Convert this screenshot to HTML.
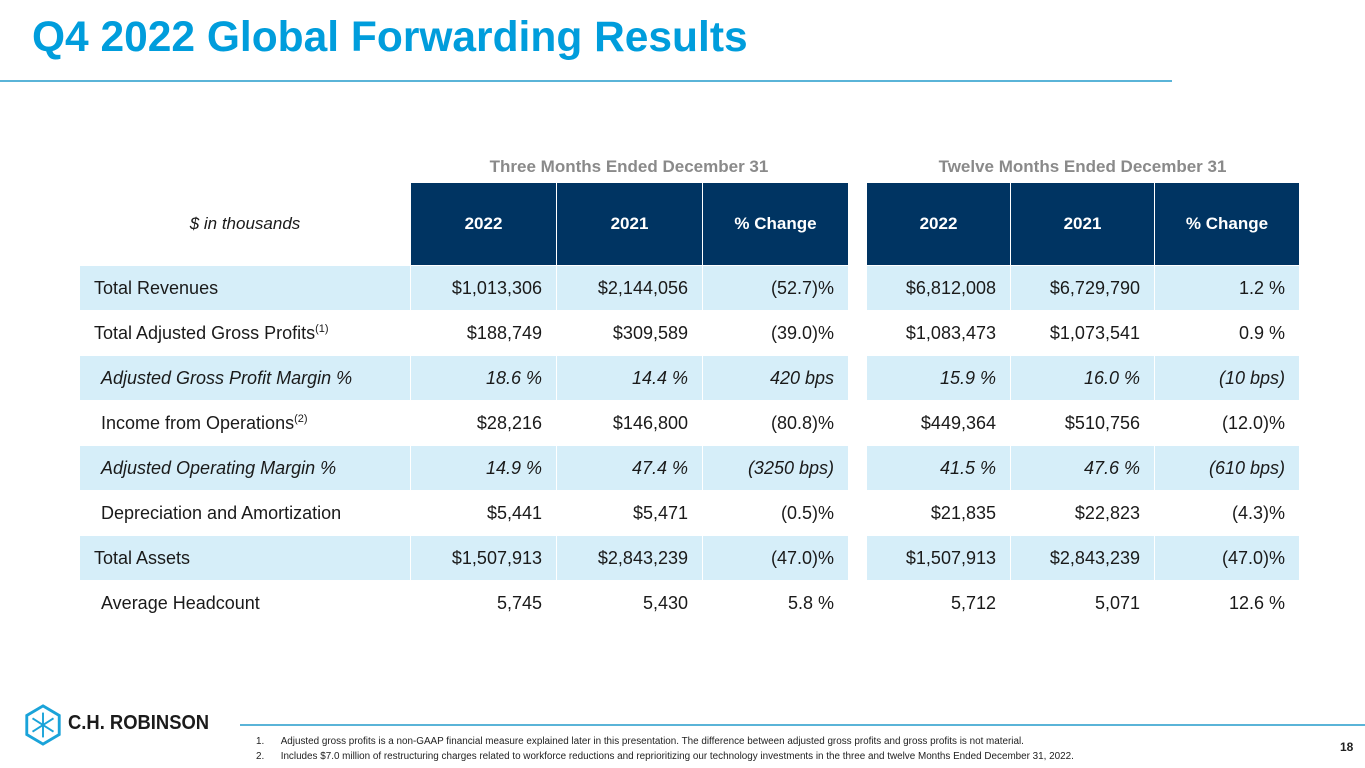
<!DOCTYPE html>
<html><head><meta charset="utf-8"><style>
body{margin:0;width:1365px;height:768px;position:relative;background:#fff;font-family:"Liberation Sans",Arial,sans-serif;overflow:hidden}
.title{position:absolute;left:32px;top:14px;font-size:42.5px;font-weight:bold;color:#009ddc;white-space:nowrap}
.rule{position:absolute;left:0;top:80px;width:1172px;height:2px;background:#5ab4d8}
.grp{position:absolute;top:157px;font-size:17px;font-weight:bold;color:#8a8a8a;text-align:center}
table{position:absolute;left:79px;top:182px;border-collapse:collapse;table-layout:fixed;width:1220px;font-size:18px;color:#1a1a1a}
td{height:45px;box-sizing:border-box;padding:0 14px;border:1px solid #fff;white-space:nowrap;text-align:right}
tr.h td{height:83px;background:#003462;color:#fff;font-weight:bold;text-align:center;font-size:17px}
tr.h td.lab{background:#fff;color:#1a1a1a;font-weight:normal;font-style:italic}
tr.s td{background:#d6eef9}
tr.h td.gap, tr td.gap{background:#fff;padding:0}
td.lab{text-align:left}
.it td{font-style:italic}
.ind{padding-left:21px}
sup{font-size:11px}
.fline{position:absolute;left:240px;top:724px;width:1125px;height:2px;background:#5ab4d8}
.fn{position:absolute;left:256px;font-size:9.9px;color:#222;white-space:nowrap}
.pg{position:absolute;left:1340px;top:740px;font-size:12px;font-weight:bold;color:#222}
.logo{position:absolute;left:23px;top:704px}
.logotext{position:absolute;left:68px;top:712px;font-size:20px;font-weight:bold;color:#1b1b1b;transform:scaleX(0.92);transform-origin:left}
</style></head><body>
<div class="title">Q4 2022 Global Forwarding Results</div>
<div class="rule"></div>
<div class="grp" style="left:410px;width:438px">Three Months Ended December 31</div>
<div class="grp" style="left:866px;width:433px">Twelve Months Ended December 31</div>
<table>
<colgroup><col style="width:331px"><col style="width:146px"><col style="width:146px"><col style="width:146px"><col style="width:18px"><col style="width:144px"><col style="width:144px"><col style="width:145px"></colgroup>
<tr class="h"><td class="lab" style="text-align:center">$ in thousands</td><td>2022</td><td>2021</td><td>% Change</td><td class="gap"></td><td>2022</td><td>2021</td><td>% Change</td></tr>
<tr class="s"><td class="lab">Total Revenues</td><td>$1,013,306</td><td>$2,144,056</td><td>(52.7)%</td><td class="gap"></td><td>$6,812,008</td><td>$6,729,790</td><td>1.2 %</td></tr>
<tr><td class="lab">Total Adjusted Gross Profits<sup>(1)</sup></td><td>$188,749</td><td>$309,589</td><td>(39.0)%</td><td class="gap"></td><td>$1,083,473</td><td>$1,073,541</td><td>0.9 %</td></tr>
<tr class="s it"><td class="lab ind">Adjusted Gross Profit Margin %</td><td>18.6 %</td><td>14.4 %</td><td>420 bps</td><td class="gap"></td><td>15.9 %</td><td>16.0 %</td><td>(10 bps)</td></tr>
<tr><td class="lab ind">Income from Operations<sup>(2)</sup></td><td>$28,216</td><td>$146,800</td><td>(80.8)%</td><td class="gap"></td><td>$449,364</td><td>$510,756</td><td>(12.0)%</td></tr>
<tr class="s it"><td class="lab ind">Adjusted Operating Margin %</td><td>14.9 %</td><td>47.4 %</td><td>(3250 bps)</td><td class="gap"></td><td>41.5 %</td><td>47.6 %</td><td>(610 bps)</td></tr>
<tr><td class="lab ind">Depreciation and Amortization</td><td>$5,441</td><td>$5,471</td><td>(0.5)%</td><td class="gap"></td><td>$21,835</td><td>$22,823</td><td>(4.3)%</td></tr>
<tr class="s"><td class="lab">Total Assets</td><td>$1,507,913</td><td>$2,843,239</td><td>(47.0)%</td><td class="gap"></td><td>$1,507,913</td><td>$2,843,239</td><td>(47.0)%</td></tr>
<tr><td class="lab ind">Average Headcount</td><td>5,745</td><td>5,430</td><td>5.8 %</td><td class="gap"></td><td>5,712</td><td>5,071</td><td>12.6 %</td></tr>
</table>
<svg class="logo" width="40" height="42" viewBox="0 0 40 44">
<polygon points="20,2 37,12 37,32 20,42 3,32 3,12" fill="none" stroke="#1aa3d9" stroke-width="3"/>
<g stroke="#1aa3d9" stroke-width="2" fill="none"><line x1="20" y1="9" x2="20" y2="35"/><line x1="9" y1="15" x2="31" y2="29"/><line x1="31" y1="15" x2="9" y2="29"/></g>
</svg>
<div class="logotext">C.H. ROBINSON</div>
<div class="fline"></div>
<div class="fn" style="top:736px">1.&nbsp;&nbsp;&nbsp;&nbsp;&nbsp;&nbsp;Adjusted gross profits is a non-GAAP financial measure explained later in this presentation. The difference between adjusted gross profits and gross profits is not material.</div>
<div class="fn" style="top:751px">2.&nbsp;&nbsp;&nbsp;&nbsp;&nbsp;&nbsp;Includes $7.0 million of restructuring charges related to workforce reductions and reprioritizing our technology investments in the three and twelve Months Ended December 31, 2022.</div>
<div class="pg">18</div>
</body></html>
